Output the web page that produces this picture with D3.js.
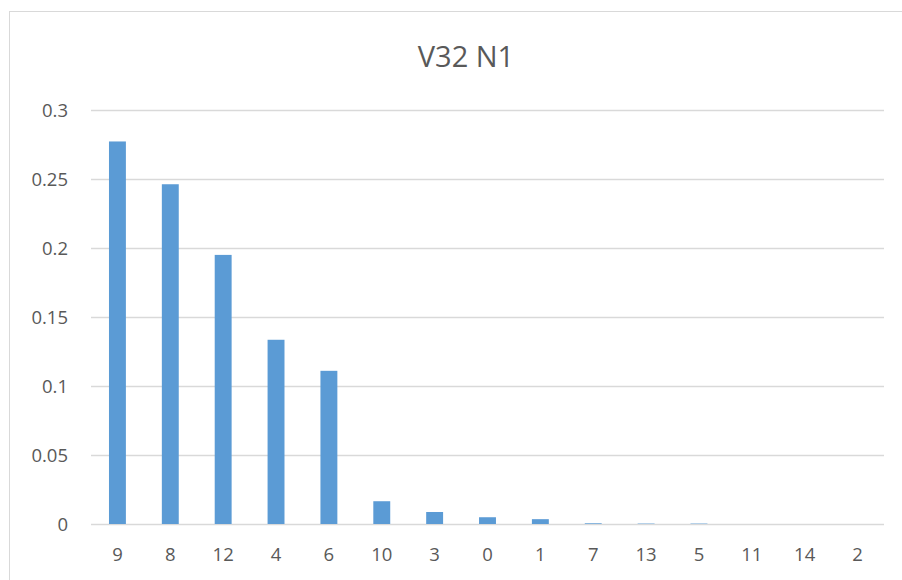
<!DOCTYPE html>
<html><head><meta charset="utf-8">
<script src="https://cdn.jsdelivr.net/npm/d3@7"></script>
<style>body{margin:0;background:#fff}svg{display:block}</style>
</head><body>
<script>
const categories = ["9","8","12","4","6","10","3","0","1","7","13","5","11","14","2"];
const values = [0.2772,0.2462,0.195,0.1335,0.111,0.0165,0.0087,0.0049,0.0035,0.0005,0.0003,0.0003,0,0,0];
const yTicks = [0,0.05,0.1,0.15,0.2,0.25,0.3];
const title = "V32 N1";

const W=902,H=580;
const svg=d3.select("body").append("svg").attr("width",W).attr("height",H);
svg.append("rect").attr("x",9.5).attr("y",11.5).attr("width",W).attr("height",H).attr("fill","#fff").attr("stroke","#d9d9d9");
const font="'Open Sans', 'Liberation Sans', sans-serif";
const m={l:91,r:884,t:110,b:524};
const x=d3.scaleBand().domain(categories).range([m.l,m.r]).paddingInner(0.68).paddingOuter(0.34);
const y=d3.scaleLinear().domain([0,0.3]).range([m.b,m.t]);

svg.append("g").selectAll("line").data(yTicks).join("line")
 .attr("x1",m.l).attr("x2",m.r).attr("y1",d=>Math.round(y(d))+0.5).attr("y2",d=>Math.round(y(d))+0.5)
 .attr("stroke","#d9d9d9").attr("stroke-width",1.3);

svg.append("g").selectAll("rect").data(values).join("rect")
 .attr("x",(d,i)=>x(categories[i])).attr("width",x.bandwidth())
 .attr("y",d=>y(d)).attr("height",d=>y(0)-y(d)).attr("fill","#5b9bd5");

const yAxis=d3.axisLeft(y).tickValues(yTicks).tickFormat(d=>String(d)).tickSize(0).tickPadding(0);
const ga=svg.append("g").attr("transform",`translate(68,0)`).call(yAxis);
ga.select(".domain").remove();
ga.selectAll("text").attr("font-family",font).attr("font-size",18.5).attr("fill","#595959").attr("dy","0.35em");

const xAxis=d3.axisBottom(x).tickSize(0).tickPadding(0);
const gx=svg.append("g").attr("transform",`translate(0,555)`).call(xAxis);
gx.select(".domain").remove();
gx.selectAll("text").attr("font-family",font).attr("font-size",18.5).attr("fill","#595959").attr("dy","0.35em");

svg.append("text").attr("x",466).attr("y",67).attr("text-anchor","middle")
 .attr("font-family",font).attr("font-size",29).attr("fill","#595959").text(title);
</script>
</body></html>
